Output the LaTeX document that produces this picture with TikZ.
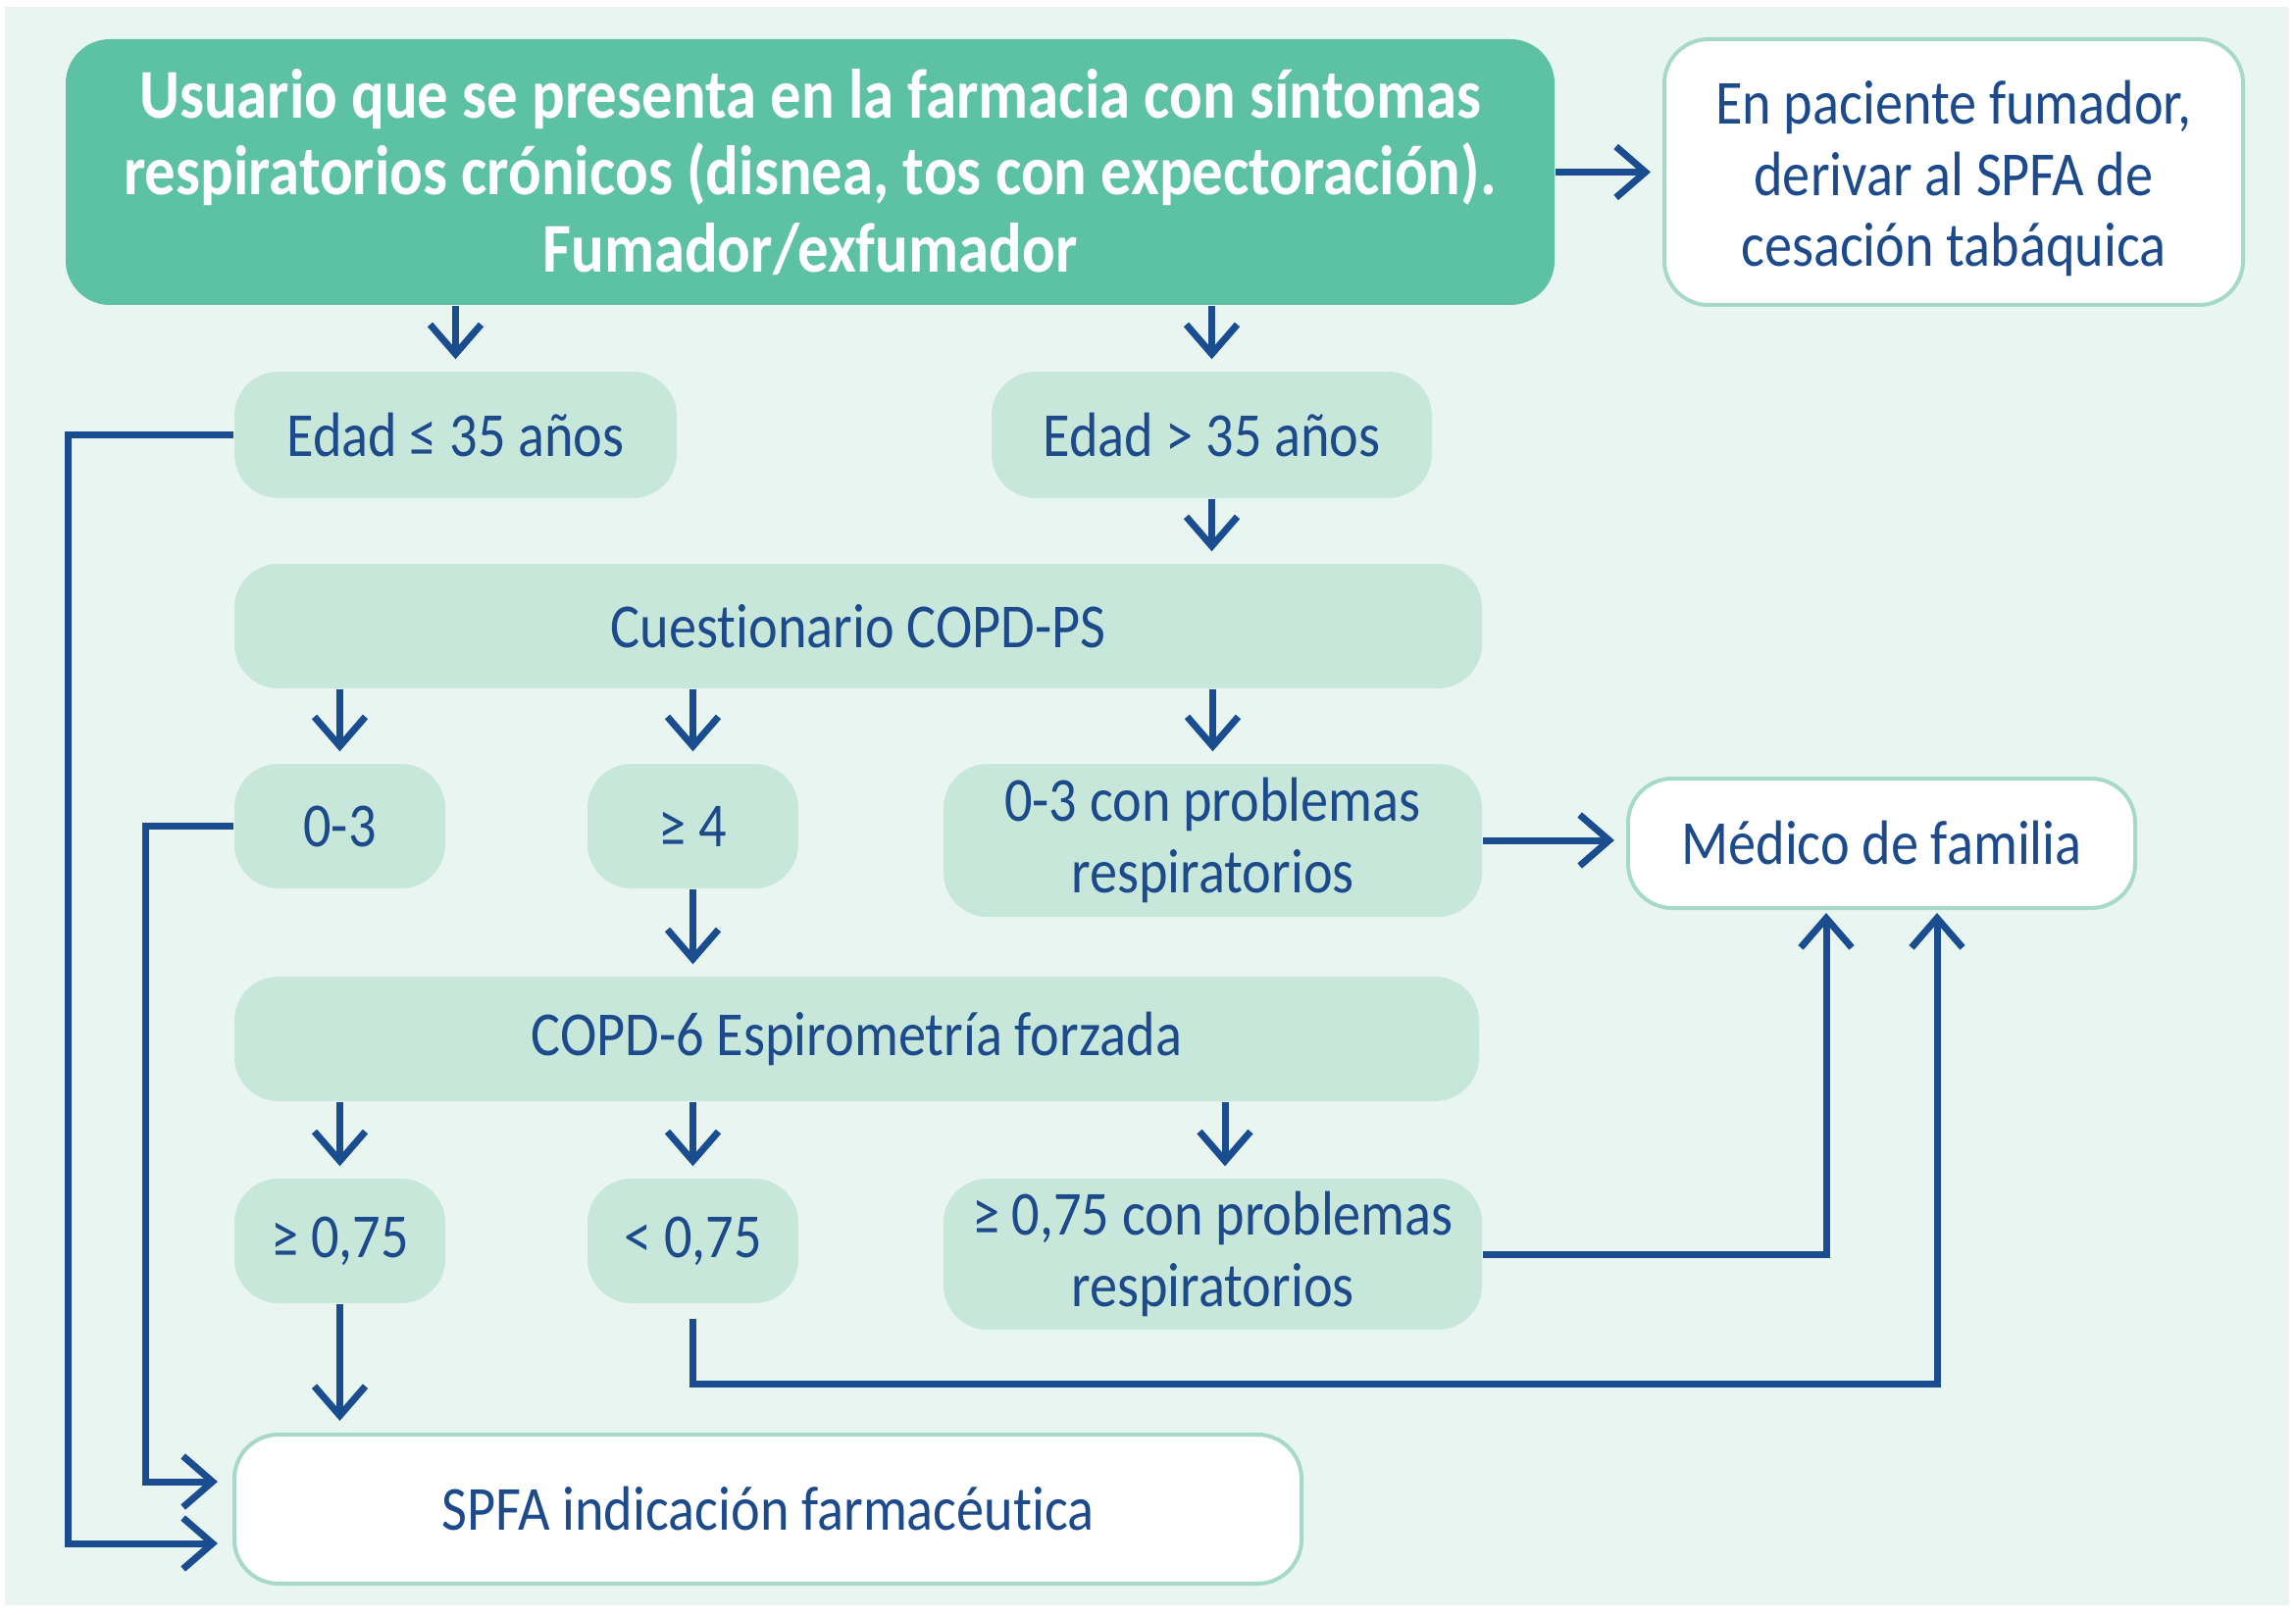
\documentclass[tikz,border=0pt]{standalone}
\usepackage{fontspec}
\setmainfont{Carlito}[FakeStretch=0.88, Ligatures=NoCommon]
\usetikzlibrary{arrows.meta}
\definecolor{bgmint}{HTML}{E9F5F0}
\definecolor{maing}{HTML}{5DC1A4}
\definecolor{lightg}{HTML}{C7E7DB}
\definecolor{borderg}{HTML}{A6DAC6}
\definecolor{txtblue}{HTML}{1C4A8A}
\definecolor{arrblue}{HTML}{194D8F}
\begin{document}
\begin{tikzpicture}[x=0.1mm,y=-0.1mm,
  base/.style={rounded corners=4.5mm, inner sep=0pt, align=center, text=txtblue,
    font=\fontsize{18.2pt}{20.6pt}\selectfont},
  lbox/.style={base, fill=lightg},
  wbox/.style={base, fill=white, draw=borderg, line width=0.4mm},
  arr/.style={draw=arrblue, line width=0.7mm, -{Straight Barb[length=3mm,width=5.2mm]}, shorten >=1.2mm}]
\path[use as bounding box, fill=white] (0,0) rectangle (2341,1647);
\fill[bgmint] (5,7) rectangle (2334,1637);
% nodes
\node[base, fill=maing, text=white, font=\bfseries\fontsize{20.3pt}{22.3pt}\selectfont,
  minimum width=151.8mm, minimum height=27.1mm] (main) at (826,175.5)
  {Usuario que se presenta en la farmacia con síntomas\\respiratorios crónicos (disnea, tos con expectoración).\\Fumador/exfumador};
\node[wbox, minimum width=59mm, minimum height=27.1mm] (rt) at (1992,175.5)
  {\rule{0pt}{5.8mm}En paciente fumador,\\derivar al SPFA de\\cesación tabáquica};
\node[lbox, minimum width=45.1mm, minimum height=12.9mm] (e35) at (464.5,443.5) {Edad ≤ 35 años};
\node[lbox, minimum width=44.9mm, minimum height=12.9mm] (g35) at (1235.5,443.5) {Edad > 35 años};
\node[lbox, minimum width=127.2mm, minimum height=12.7mm] (cq) at (875,638.5) {Cuestionario COPD-PS};
\node[lbox, minimum width=21.5mm, minimum height=12.7mm] (a03) at (346.5,842.5) {0-3};
\node[lbox, minimum width=21.5mm, minimum height=12.7mm] (ge4) at (706.5,842.5) {≥ 4};
\node[lbox, minimum width=54.9mm, minimum height=15.6mm] (p03) at (1236.5,857) {0-3 con problemas\\respiratorios};
\node[wbox, minimum width=51.7mm, minimum height=13.2mm] (med) at (1918.5,860) {Médico de familia};
\node[lbox, minimum width=126.9mm, minimum height=12.7mm] (c6) at (873.5,1059.5) {COPD-6 Espirometría forzada};
\node[lbox, minimum width=21.5mm, minimum height=12.7mm] (g75) at (346.5,1265.5) {≥ 0,75};
\node[lbox, minimum width=21.5mm, minimum height=12.7mm] (l75) at (706.5,1265.5) {< 0,75};
\node[lbox, minimum width=54.9mm, minimum height=15.4mm] (p75) at (1236.5,1279) {≥ 0,75 con problemas\\respiratorios};
\node[wbox, minimum width=108.8mm, minimum height=15.2mm] (spfa) at (783,1539) {SPFA indicación farmacéutica};
% connectors
\draw[arr] (main.east) -- (rt.west);
\draw[arr] (main.south -| e35.north) -- (e35.north);
\draw[arr] (main.south -| g35.north) -- (g35.north);
\draw[arr] (g35.south) -- (g35.south |- cq.north);
\draw[arr] (cq.south -| a03.north) -- (a03.north);
\draw[arr] (cq.south -| ge4.north) -- (ge4.north);
\draw[arr] (cq.south -| p03.north) -- (p03.north);
\draw[arr] (ge4.south) -- (ge4.south |- c6.north);
\draw[arr] (p03.east) -- (p03.east -| med.west);
\draw[arr] (c6.south -| g75.north) -- (g75.north);
\draw[arr] (c6.south -| l75.north) -- (l75.north);
\draw[arr] ([xshift=1.25mm]p75.north |- c6.south) -- ([xshift=1.25mm]p75.north);
\draw[arr] (g75.south) -- (g75.south |- spfa.north);
\draw[arr, shorten >=1.5mm] (e35.west) -- ++(-169,0) |- ([yshift=-3.5mm]spfa.west);
\draw[arr, shorten >=1.5mm] (a03.west) -- ++(-90,0) |- ([yshift=2.8mm]spfa.west);
\draw[arr, shorten >=0.3mm] (p75.east) -| ([xshift=-5.65mm]med.south);
\draw[arr, shorten >=0.3mm] (l75.south) ++(0,15) -- ++(0,67) -| ([xshift=5.65mm]med.south);
\end{tikzpicture}
\end{document}
